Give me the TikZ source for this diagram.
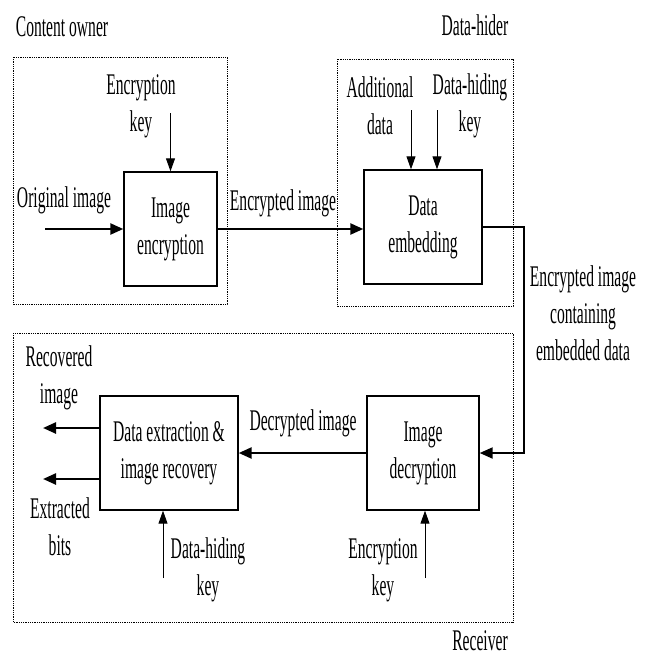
\documentclass[tikz,border=0pt]{standalone}
\usepackage{fontspec}
\setmainfont[FakeStretch=0.52]{Liberation Serif}
\usetikzlibrary{arrows.meta}
\begin{document}
\begin{tikzpicture}[x=1pt,y=-1pt,
  lbl/.style={inner sep=0pt, align=center, font=\fontsize{30}{37}\selectfont},
  blk/.style={draw, line width=1.4pt, inner sep=0pt, align=center, font=\fontsize{30}{37}\selectfont},
  grp/.style={draw, line width=0.9pt, dash pattern=on 1pt off 0.8pt},
  flow/.style={line width=2.4pt, -{Triangle[length=13pt,width=11pt]}},
  keyarr/.style={line width=1pt, -{Triangle[length=13pt,width=9pt]}}]
\useasboundingbox (0,0) rectangle (649,656);
% groups
\draw[grp] (13,57) rectangle (227,304);
\draw[grp] (337,59) rectangle (513,306);
\draw[grp] (13,333) rectangle (513,622);
% group labels
\node[lbl] (tco) at (62,27) {Content owner};
\node[lbl] (tdh) at (475,25) {Data-hider};
\node[lbl] (trc) at (480,641) {Receiver};
% blocks
\node[blk, minimum width=93pt, minimum height=114pt] (enc) at (170.5,229) {Image\\encryption};
\node[blk, minimum width=118pt, minimum height=114pt] (emb) at (423,227) {Data\\embedding};
\node[blk, minimum width=138pt, minimum height=114pt] (ext) at (169,453) {Data extraction \&\\image recovery};
\node[blk, minimum width=112pt, minimum height=114pt] (dec) at (423,453) {Image\\decryption};
% labels
\node[lbl] (lek1) at (141,106) {Encryption\\key};
\node[lbl] (lorig) at (64,200) {Original image};
\node[lbl] (lencimg) at (283,203) {Encrypted image};
\node[lbl] (ladd) at (380,106) {Additional\\data};
\node[lbl] (ldhk1) at (470,106) {Data-hiding\\key};
\node[lbl] (lcont) at (583,313) {Encrypted image\\containing\\embedded data};
\node[lbl] (lrec) at (59,378) {Recovered\\image};
\node[lbl] (lbits) at (60,527) {Extracted\\bits};
\node[lbl] (ldhk2) at (208,570) {Data-hiding\\key};
\node[lbl] (lek2) at (383,570) {Encryption\\key};
\node[lbl] (ldecimg) at (303,423) {Decrypted image};
% coordinates
\coordinate (oi) at (45,229);
\coordinate (ek1) at (170.5,113);
\coordinate (ad) at (411,110);
\coordinate (dk1) at (437,110);
\coordinate (c1) at (524,227);
\coordinate (c2) at (524,453);
\coordinate (ro) at (43,428);
\coordinate (bo) at (43,479);
\coordinate (dk2) at (163,578);
\coordinate (ek2) at (425,578);
% connectors
\draw[flow] (oi) -- (enc.west);
\draw[flow] (enc.east) -- (emb.west |- enc.east);
\draw[keyarr] (ek1) -- (enc.north);
\draw[keyarr] (ad) -- (ad |- emb.north);
\draw[keyarr] (dk1) -- (dk1 |- emb.north);
\draw[line width=2pt, -{Triangle[length=13pt,width=11pt]}] (emb.east) -- (c1) -- (c2) -- (dec.east);
\draw[flow] (dec.west) -- (ext.east);
\draw[flow] (ext.west |- ro) -- (ro);
\draw[flow] (ext.west |- bo) -- (bo);
\draw[keyarr] (dk2) -- (dk2 |- ext.south);
\draw[keyarr] (ek2) -- (ek2 |- dec.south);
\end{tikzpicture}
\end{document}
